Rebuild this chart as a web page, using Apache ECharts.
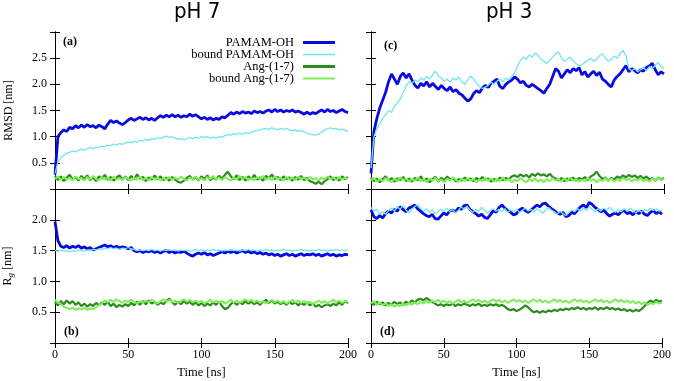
<!DOCTYPE html>
<html>
<head>
<meta charset="utf-8">
<script src="https://cdn.jsdelivr.net/npm/echarts@6.0.0/dist/echarts.min.js"></script>
<style>html,body{margin:0;padding:0;background:#fff}#c{width:674px;height:381px}</style>
</head>
<body>
<div id="c"></div>
<script>
// ---------- DATA ----------
const time = [0,2,4,6,8,10,12,14,16,18,20,22,24,26,28,30,32,34,36,38,40,42,44,46,48,50,52,54,56,58,60,62,64,66,68,70,72,74,76,78,80,82,84,86,88,90,92,94,96,98,100,102,104,106,108,110,112,114,116,118,120,122,124,126,128,130,132,134,136,138,140,142,144,146,148,150,152,154,156,158,160,162,164,166,168,170,172,174,176,178,180,182,184,186,188,190,192,194,196,198,200];
const seriesNames = ['PAMAM-OH','bound PAMAM-OH','Ang-(1-7)','bound Ang-(1-7)'];
const panelTitles = ['pH 7','pH 3'];
const panelTags = ['(a)','(c)','(b)','(d)'];
const xTicks = [0,50,100,150,200];
const rmsdTicks = [0.5,1.0,1.5,2.0,2.5];
const rgTicks = [0.5,1.0,1.5,2.0];

// (a) RMSD pH 7
const rmsd7_pam = [0.28,1.00,1.08,1.13,1.10,1.18,1.15,1.21,1.17,1.22,1.18,1.23,1.19,1.21,1.17,1.22,1.19,1.15,1.24,1.31,1.27,1.30,1.26,1.23,1.27,1.32,1.35,1.31,1.34,1.37,1.33,1.36,1.32,1.35,1.31,1.36,1.40,1.37,1.41,1.38,1.42,1.38,1.41,1.37,1.40,1.38,1.43,1.39,1.42,1.38,1.34,1.37,1.33,1.36,1.32,1.35,1.33,1.38,1.36,1.41,1.46,1.43,1.47,1.44,1.48,1.45,1.47,1.44,1.49,1.46,1.48,1.45,1.49,1.51,1.47,1.52,1.48,1.51,1.47,1.50,1.48,1.51,1.47,1.49,1.46,1.43,1.47,1.43,1.46,1.44,1.48,1.51,1.47,1.52,1.48,1.50,1.46,1.49,1.52,1.48,1.46];
const rmsd7_bpam = [0.30,0.52,0.60,0.65,0.68,0.70,0.73,0.71,0.74,0.76,0.74,0.77,0.79,0.77,0.80,0.79,0.82,0.81,0.84,0.83,0.86,0.84,0.87,0.85,0.88,0.90,0.88,0.91,0.89,0.93,0.92,0.95,0.93,0.96,0.95,0.98,0.96,0.99,1.01,0.98,1.00,0.97,0.95,0.97,0.94,0.96,0.98,0.96,0.99,0.97,1.00,0.98,1.00,0.97,0.99,0.97,1.00,0.99,1.02,1.04,1.03,1.06,1.04,1.07,1.05,1.08,1.06,1.08,1.10,1.12,1.13,1.15,1.16,1.14,1.17,1.15,1.13,1.16,1.14,1.16,1.13,1.11,1.13,1.10,1.12,1.09,1.07,1.05,1.04,1.03,1.05,1.09,1.13,1.15,1.17,1.15,1.16,1.13,1.15,1.12,1.10];
const rmsd7_ang = [0.25,0.17,0.24,0.15,0.22,0.27,0.18,0.23,0.16,0.25,0.19,0.26,0.17,0.22,0.15,0.24,0.20,0.27,0.18,0.23,0.16,0.22,0.26,0.18,0.24,0.17,0.25,0.19,0.28,0.20,0.23,0.15,0.22,0.18,0.26,0.19,0.24,0.17,0.22,0.16,0.23,0.18,0.14,0.12,0.16,0.21,0.25,0.18,0.23,0.16,0.24,0.19,0.26,0.17,0.22,0.18,0.25,0.20,0.27,0.33,0.24,0.19,0.26,0.17,0.23,0.16,0.24,0.19,0.27,0.18,0.22,0.16,0.25,0.20,0.28,0.19,0.23,0.17,0.24,0.19,0.22,0.16,0.23,0.18,0.25,0.17,0.21,0.15,0.13,0.10,0.14,0.09,0.15,0.19,0.24,0.17,0.22,0.16,0.24,0.19,0.23];
const rmsd7_bang = [0.19,0.24,0.17,0.23,0.18,0.22,0.16,0.24,0.19,0.21,0.16,0.23,0.18,0.25,0.19,0.17,0.23,0.18,0.22,0.16,0.24,0.18,0.21,0.17,0.23,0.19,0.16,0.22,0.18,0.24,0.17,0.21,0.16,0.23,0.18,0.22,0.16,0.21,0.18,0.23,0.17,0.22,0.18,0.24,0.19,0.16,0.22,0.18,0.24,0.17,0.21,0.16,0.23,0.19,0.25,0.18,0.22,0.17,0.23,0.19,0.16,0.22,0.18,0.25,0.19,0.23,0.17,0.21,0.16,0.23,0.19,0.25,0.18,0.22,0.17,0.24,0.19,0.21,0.16,0.23,0.18,0.22,0.17,0.24,0.19,0.22,0.17,0.23,0.18,0.21,0.16,0.22,0.18,0.24,0.19,0.22,0.17,0.23,0.18,0.21,0.20];

// (c) RMSD pH 3
const rmsd3_pam = [0.30,1.10,1.35,1.55,1.70,1.85,2.05,2.20,2.10,2.00,2.15,2.22,2.12,2.20,2.08,1.98,1.93,2.02,1.97,2.05,1.95,2.02,1.96,1.90,1.98,1.92,1.88,1.95,1.86,1.90,1.83,1.80,1.74,1.68,1.72,1.82,1.88,1.84,1.93,1.98,1.94,2.02,2.06,2.10,1.96,1.92,2.00,2.05,2.08,2.14,2.10,2.03,2.06,1.98,1.95,2.00,1.96,1.92,1.88,1.83,1.92,2.00,2.15,2.30,2.25,2.12,2.20,2.28,2.22,2.30,2.26,2.32,2.18,2.24,2.14,2.20,2.25,2.17,2.23,2.10,2.06,2.00,1.95,2.08,2.15,2.20,2.28,2.36,2.24,2.30,2.26,2.22,2.28,2.25,2.32,2.35,2.40,2.28,2.18,2.24,2.20];
const rmsd3_bpam = [0.40,1.00,1.15,1.25,1.35,1.42,1.50,1.46,1.58,1.64,1.72,1.85,1.97,2.05,2.02,2.08,2.05,2.12,2.08,2.15,2.10,2.18,2.25,2.16,2.12,2.06,2.10,2.04,2.12,2.08,2.14,2.05,2.00,2.08,2.16,2.10,2.02,1.96,1.92,1.95,1.98,2.04,2.00,2.06,2.10,2.05,2.12,2.08,2.15,2.22,2.35,2.46,2.52,2.48,2.56,2.52,2.60,2.55,2.48,2.44,2.40,2.46,2.52,2.58,2.62,2.50,2.44,2.48,2.52,2.45,2.40,2.34,2.38,2.42,2.46,2.50,2.44,2.48,2.55,2.58,2.50,2.44,2.48,2.54,2.50,2.58,2.65,2.55,2.30,2.26,2.30,2.24,2.28,2.32,2.26,2.34,2.30,2.36,2.42,2.34,2.30];
const rmsd3_ang = [0.22,0.15,0.20,0.13,0.19,0.24,0.16,0.21,0.14,0.20,0.17,0.23,0.15,0.20,0.14,0.21,0.17,0.24,0.16,0.20,0.13,0.19,0.23,0.15,0.21,0.17,0.24,0.18,0.21,0.14,0.19,0.16,0.22,0.17,0.20,0.15,0.21,0.17,0.23,0.18,0.20,0.14,0.19,0.16,0.22,0.17,0.21,0.18,0.24,0.26,0.23,0.28,0.24,0.27,0.22,0.29,0.25,0.30,0.26,0.28,0.24,0.29,0.23,0.20,0.16,0.21,0.15,0.20,0.17,0.22,0.16,0.21,0.18,0.23,0.17,0.24,0.27,0.33,0.25,0.19,0.22,0.16,0.21,0.18,0.24,0.21,0.26,0.22,0.27,0.23,0.26,0.21,0.25,0.20,0.24,0.18,0.21,0.16,0.22,0.18,0.21];
const rmsd3_bang = [0.16,0.21,0.14,0.19,0.15,0.21,0.17,0.13,0.20,0.15,0.22,0.17,0.20,0.14,0.19,0.16,0.22,0.15,0.19,0.13,0.20,0.16,0.21,0.15,0.18,0.13,0.20,0.16,0.22,0.17,0.14,0.20,0.15,0.21,0.16,0.19,0.13,0.18,0.15,0.21,0.16,0.20,0.14,0.19,0.15,0.22,0.16,0.19,0.13,0.18,0.15,0.21,0.16,0.13,0.19,0.15,0.20,0.14,0.18,0.13,0.19,0.15,0.21,0.16,0.19,0.14,0.20,0.15,0.22,0.16,0.19,0.14,0.18,0.15,0.21,0.16,0.19,0.13,0.18,0.15,0.21,0.16,0.20,0.14,0.19,0.15,0.22,0.17,0.20,0.14,0.19,0.16,0.21,0.15,0.19,0.14,0.20,0.16,0.22,0.17,0.19];

// (b) Rg pH 7
const rg7_pam = [1.97,1.66,1.57,1.55,1.58,1.54,1.57,1.55,1.58,1.54,1.56,1.53,1.55,1.51,1.53,1.55,1.57,1.59,1.56,1.58,1.55,1.57,1.54,1.56,1.55,1.53,1.55,1.50,1.48,1.50,1.47,1.49,1.48,1.50,1.47,1.49,1.46,1.49,1.50,1.47,1.49,1.46,1.48,1.47,1.49,1.46,1.43,1.41,1.44,1.46,1.44,1.47,1.43,1.45,1.42,1.44,1.46,1.48,1.46,1.49,1.47,1.49,1.46,1.48,1.50,1.47,1.49,1.46,1.48,1.45,1.47,1.44,1.46,1.43,1.45,1.42,1.44,1.41,1.43,1.45,1.42,1.44,1.41,1.43,1.45,1.42,1.44,1.43,1.45,1.42,1.44,1.41,1.43,1.45,1.42,1.44,1.41,1.43,1.42,1.44,1.43];
const rg7_bpam = [1.50,1.49,1.51,1.49,1.50,1.48,1.50,1.49,1.51,1.50,1.49,1.51,1.50,1.52,1.51,1.53,1.52,1.54,1.53,1.55,1.53,1.54,1.52,1.54,1.53,1.55,1.53,1.52,1.50,1.51,1.50,1.51,1.50,1.52,1.50,1.51,1.49,1.51,1.50,1.52,1.50,1.51,1.49,1.51,1.50,1.51,1.49,1.50,1.52,1.50,1.51,1.49,1.51,1.50,1.52,1.50,1.51,1.49,1.51,1.50,1.52,1.50,1.51,1.49,1.51,1.50,1.52,1.50,1.51,1.49,1.51,1.50,1.52,1.50,1.51,1.49,1.51,1.50,1.52,1.50,1.51,1.49,1.51,1.50,1.52,1.50,1.51,1.49,1.51,1.50,1.52,1.50,1.51,1.49,1.51,1.50,1.52,1.50,1.51,1.50,1.51];
const rg7_ang = [0.66,0.61,0.68,0.63,0.69,0.64,0.68,0.62,0.66,0.60,0.64,0.59,0.63,0.60,0.65,0.61,0.66,0.62,0.67,0.60,0.64,0.58,0.62,0.59,0.63,0.60,0.65,0.61,0.67,0.62,0.68,0.63,0.69,0.64,0.67,0.62,0.66,0.63,0.68,0.72,0.66,0.62,0.67,0.63,0.68,0.64,0.67,0.62,0.66,0.61,0.65,0.60,0.64,0.61,0.66,0.62,0.67,0.60,0.55,0.57,0.63,0.67,0.62,0.66,0.63,0.68,0.64,0.67,0.63,0.66,0.62,0.67,0.70,0.65,0.69,0.64,0.67,0.63,0.66,0.62,0.67,0.63,0.66,0.61,0.65,0.62,0.66,0.61,0.64,0.59,0.62,0.58,0.61,0.63,0.60,0.64,0.61,0.66,0.62,0.68,0.65];
const rg7_bang = [0.70,0.66,0.63,0.59,0.57,0.55,0.57,0.54,0.56,0.55,0.57,0.54,0.56,0.55,0.58,0.61,0.65,0.69,0.66,0.70,0.67,0.71,0.68,0.65,0.69,0.66,0.70,0.67,0.64,0.68,0.65,0.69,0.66,0.70,0.67,0.64,0.68,0.71,0.67,0.70,0.66,0.69,0.65,0.68,0.71,0.67,0.70,0.66,0.69,0.65,0.68,0.64,0.67,0.70,0.66,0.69,0.65,0.68,0.64,0.67,0.70,0.66,0.69,0.65,0.68,0.71,0.67,0.70,0.66,0.69,0.65,0.68,0.64,0.67,0.70,0.66,0.69,0.65,0.68,0.64,0.67,0.70,0.66,0.69,0.65,0.68,0.64,0.67,0.63,0.66,0.69,0.65,0.68,0.64,0.67,0.70,0.66,0.69,0.65,0.68,0.67];

// (d) Rg pH 3
const rg3_pam = [2.16,2.05,2.02,2.07,2.03,2.10,2.14,2.11,2.17,2.14,2.21,2.17,2.13,2.19,2.21,2.24,2.18,2.14,2.10,2.07,2.05,2.09,2.02,2.01,2.06,2.11,2.08,2.14,2.16,2.13,2.19,2.17,2.23,2.24,2.17,2.13,2.10,2.06,2.09,2.04,2.02,2.08,2.15,2.12,2.20,2.24,2.19,2.15,2.12,2.08,2.10,2.16,2.19,2.15,2.12,2.16,2.20,2.24,2.21,2.26,2.27,2.22,2.18,2.15,2.11,2.09,2.12,2.05,2.07,2.12,2.10,2.16,2.21,2.24,2.20,2.28,2.25,2.20,2.17,2.13,2.16,2.10,2.06,2.09,2.11,2.08,2.13,2.15,2.10,2.12,2.08,2.13,2.10,2.14,2.09,2.07,2.12,2.15,2.10,2.13,2.09];
const rg3_bpam = [2.20,2.14,2.17,2.10,2.13,2.09,2.15,2.19,2.14,2.21,2.17,2.23,2.16,2.11,2.17,2.21,2.25,2.19,2.14,2.18,2.12,2.16,2.10,2.13,2.17,2.14,2.19,2.13,2.17,2.11,2.15,2.21,2.17,2.22,2.16,2.12,2.17,2.14,2.20,2.16,2.11,2.15,2.18,2.14,2.17,2.13,2.18,2.12,2.16,2.13,2.17,2.12,2.15,2.19,2.14,2.17,2.13,2.18,2.15,2.11,2.16,2.20,2.16,2.13,2.09,2.14,2.10,2.07,2.12,2.16,2.13,2.18,2.14,2.19,2.15,2.21,2.17,2.13,2.18,2.14,2.19,2.15,2.20,2.16,2.12,2.17,2.13,2.18,2.14,2.19,2.15,2.11,2.16,2.12,2.17,2.14,2.19,2.15,2.18,2.14,2.16];
const rg3_ang = [0.66,0.62,0.67,0.63,0.66,0.61,0.65,0.62,0.67,0.63,0.66,0.62,0.67,0.64,0.69,0.66,0.70,0.72,0.69,0.73,0.70,0.67,0.64,0.61,0.63,0.60,0.63,0.61,0.64,0.60,0.63,0.61,0.64,0.62,0.60,0.63,0.61,0.64,0.60,0.62,0.60,0.63,0.61,0.63,0.60,0.62,0.59,0.55,0.53,0.55,0.52,0.54,0.57,0.61,0.58,0.53,0.50,0.52,0.49,0.52,0.50,0.53,0.51,0.54,0.52,0.55,0.53,0.56,0.54,0.57,0.55,0.58,0.55,0.57,0.54,0.57,0.55,0.58,0.54,0.57,0.55,0.58,0.55,0.57,0.54,0.56,0.53,0.55,0.52,0.54,0.51,0.54,0.52,0.55,0.60,0.65,0.69,0.66,0.70,0.67,0.69];
const rg3_bang = [0.64,0.68,0.62,0.66,0.61,0.65,0.60,0.63,0.59,0.62,0.60,0.64,0.61,0.65,0.62,0.66,0.63,0.67,0.64,0.68,0.65,0.69,0.66,0.70,0.66,0.69,0.65,0.68,0.64,0.67,0.70,0.66,0.69,0.65,0.68,0.71,0.67,0.70,0.66,0.69,0.65,0.68,0.71,0.67,0.70,0.66,0.69,0.65,0.68,0.71,0.67,0.70,0.66,0.69,0.65,0.68,0.71,0.67,0.70,0.66,0.69,0.65,0.68,0.71,0.67,0.70,0.66,0.69,0.65,0.68,0.71,0.67,0.70,0.66,0.69,0.65,0.68,0.71,0.67,0.70,0.66,0.69,0.65,0.68,0.71,0.67,0.70,0.66,0.69,0.65,0.68,0.64,0.67,0.63,0.66,0.62,0.65,0.63,0.67,0.64,0.66];

// ---------- STYLE ----------
const colors = ['#0a0ae0', '#6fe6ef', '#2f8a22', '#7cef55'];
const widths = [2.8, 1.3, 2.2, 2.0];
const legendHeights = [3, 1.5, 3, 2];
const SERIF = '"Liberation Serif", "DejaVu Serif", serif';

const grids = [
  {left: 55, top: 32, width: 293, height: 157},
  {left: 371, top: 32, width: 293, height: 157},
  {left: 55, top: 189, width: 293, height: 154},
  {left: 371, top: 189, width: 293, height: 154}
];
const panelData = [
  [rmsd7_pam, rmsd7_bpam, rmsd7_ang, rmsd7_bang],
  [rmsd3_pam, rmsd3_bpam, rmsd3_ang, rmsd3_bang],
  [rg7_pam, rg7_bpam, rg7_ang, rg7_bang],
  [rg3_pam, rg3_bpam, rg3_ang, rg3_bang]
];

const xAxes = [], yAxes = [], series = [];
grids.forEach((g, gi) => {
  const isBottom = gi >= 2;
  const isLeft = gi % 2 === 0;
  const yMax = isBottom ? 2.5 : 3.0;
  const yLabels = isBottom ? rgTicks : rmsdTicks;
  const tick = {show: true, inside: true, length: 5, lineStyle: {color: '#000', width: 1}};
  const line = {show: true, lineStyle: {color: '#000', width: 1}};
  xAxes.push({
    type: 'value', gridIndex: gi, position: 'bottom', min: 0, max: 200, interval: 50,
    axisLine: line, axisTick: tick, splitLine: {show: false},
    axisLabel: {show: isBottom, color: '#000', fontFamily: SERIF, fontSize: 12, margin: 6,
      formatter: v => xTicks.includes(v) ? String(v) : ''},
    name: isBottom ? 'Time [ns]' : '', nameLocation: 'middle', nameGap: 23,
    nameTextStyle: {color: '#000', fontFamily: SERIF, fontSize: 12.5}
  });
  xAxes.push({
    type: 'value', gridIndex: gi, position: 'top', min: 0, max: 200, interval: 50,
    axisLine: line, axisTick: tick, axisLabel: {show: false}, splitLine: {show: false}
  });
  yAxes.push({
    type: 'value', gridIndex: gi, position: 'left', min: 0, max: yMax, interval: 0.5,
    axisLine: line, axisTick: tick, splitLine: {show: false},
    axisLabel: {show: isLeft, color: '#000', fontFamily: SERIF, fontSize: 12, margin: 8,
      formatter: v => yLabels.some(t => Math.abs(t - v) < 1e-6) ? v.toFixed(1) : ''},
    name: isLeft ? (isBottom ? 'R{s|g} [nm]' : 'RMSD [nm]') : '',
    nameLocation: 'middle', nameGap: 40, nameRotate: 90,
    nameTextStyle: {color: '#000', fontFamily: SERIF, fontSize: 12,
      rich: {s: {fontFamily: SERIF, fontSize: 9, fontStyle: 'italic', color: '#000', padding: [5, 0, 0, 0]}}}
  });
  yAxes.push({
    type: 'value', gridIndex: gi, position: 'right', min: 0, max: yMax, interval: 0.5,
    axisLine: line, axisTick: tick, axisLabel: {show: false}, splitLine: {show: false}
  });
  panelData[gi].forEach((vals, si) => {
    series.push({
      type: 'line', name: seriesNames[si], xAxisIndex: gi * 2, yAxisIndex: gi * 2,
      data: time.map((t, i) => [t, vals[i]]),
      showSymbol: false, symbol: 'none', clip: true,
      lineStyle: {color: colors[si], width: widths[si]},
      itemStyle: {color: colors[si]},
      z: 2 + si
    });
  });
});

const legends = seriesNames.map((n, i) => ({
  data: [n], right: 339, top: 36 + i * 12, orient: 'horizontal', align: 'right',
  padding: 0, itemWidth: 32, itemHeight: legendHeights[i], icon: 'rect', selectedMode: false,
  itemStyle: {color: colors[i]},
  textStyle: {color: '#000', fontFamily: SERIF, fontSize: 12.5, padding: [0, 4, 0, 0]}
}));

const graphics = [
  {type: 'text', left: 174, top: 1, style: {text: panelTitles[0], font: '22px "DejaVu Sans Condensed", "DejaVu Sans", sans-serif', fill: '#000'}},
  {type: 'text', left: 486, top: 1, style: {text: panelTitles[1], font: '22px "DejaVu Sans Condensed", "DejaVu Sans", sans-serif', fill: '#000'}},
  {type: 'text', left: 63, top: 36, style: {text: panelTags[0], font: 'bold 12px ' + SERIF, fill: '#000'}},
  {type: 'text', left: 384, top: 40, style: {text: panelTags[1], font: 'bold 12px ' + SERIF, fill: '#000'}},
  {type: 'text', left: 64, top: 326, style: {text: panelTags[2], font: 'bold 12px ' + SERIF, fill: '#000'}},
  {type: 'text', left: 380, top: 326, style: {text: panelTags[3], font: 'bold 12px ' + SERIF, fill: '#000'}}
];

const chart = echarts.init(document.getElementById('c'), null, {renderer: 'canvas'});
chart.setOption({
  animation: false,
  backgroundColor: '#fff',
  grid: grids,
  xAxis: xAxes,
  yAxis: yAxes,
  legend: legends,
  series: series,
  graphic: graphics
});
</script>
</body>
</html>
